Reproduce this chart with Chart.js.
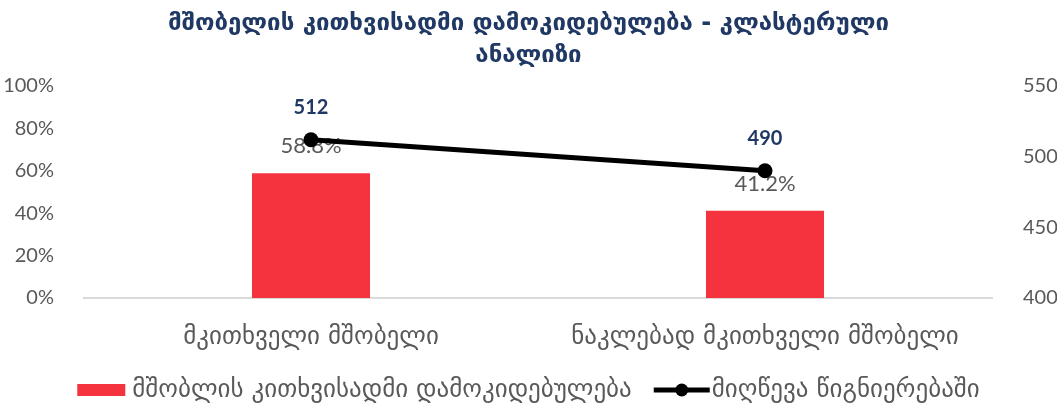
<!DOCTYPE html>
<html>
<head>
<meta charset="utf-8">
<script src="https://cdn.jsdelivr.net/npm/chart.js@4.4.1/dist/chart.umd.min.js"></script>
<style>
  html, body { margin: 0; padding: 0; background: #fff; }
  #wrap { width: 1057px; height: 404px; }
</style>
</head>
<body>
<div id="wrap"><canvas id="parentChart"></canvas></div>
<script>
// categories and series
const categories = ["მკითხველი მშობელი", "ნაკლებად მკითხველი მშობელი"];
const attitudeShare = [58.8, 41.2];   // %
const readingScore = [512, 490];
const seriesNames = ["მშობლის კითხვისადმი დამოკიდებულება", "მიღწევა წიგნიერებაში"];
const chartTitle = ["მშობელის კითხვისადმი დამოკიდებულება - კლასტერული", "ანალიზი"];

const FONT = "Lato, 'DejaVu Sans', sans-serif";
const GEO = "'DejaVu Sans', sans-serif";
const GREY = "#595959";
const NAVY = "#1F3864";
const RED = "#F5333F";

// value labels above the bars and the line points
const valueLabels = {
  id: "valueLabels",
  afterDatasetDraw(chart, args) {
    const ctx = chart.ctx;
    const ds = chart.data.datasets[args.index];
    ctx.save();
    ctx.textAlign = "center";
    ctx.textBaseline = "middle";
    args.meta.data.forEach((el, i) => {
      if (ds.type === "bar") {
        ctx.font = "22px " + FONT;
        ctx.fillStyle = GREY;
        ctx.fillText(ds.data[i].toFixed(1) + "%", el.x, el.y - 27);
      } else {
        ctx.font = "bold 20px " + FONT;
        ctx.fillStyle = NAVY;
        ctx.fillText(String(ds.data[i]), el.x, el.y - 32);
      }
    });
    ctx.restore();
  }
};

// legend at the bottom: red box + line with a dot
const bottomLegend = {
  id: "bottomLegend",
  afterDraw(chart) {
    const ctx = chart.ctx;
    const y = 390;
    ctx.save();
    ctx.font = "25px " + GEO;
    ctx.textBaseline = "middle";
    const w1 = ctx.measureText(seriesNames[0]).width;
    const w2 = ctx.measureText(seriesNames[1]).width;
    const total = 48 + 7 + w1 + 22 + 56 + 2 + w2;
    let x = chart.width / 2 - total / 2;
    ctx.fillStyle = RED;
    ctx.fillRect(x, y - 6, 48, 12);
    x += 55;
    ctx.fillStyle = GREY;
    ctx.fillText(seriesNames[0], x, y);
    x += w1 + 22;
    ctx.strokeStyle = "#000";
    ctx.lineWidth = 5;
    ctx.beginPath();
    ctx.moveTo(x, y);
    ctx.lineTo(x + 56, y);
    ctx.stroke();
    ctx.fillStyle = "#000";
    ctx.beginPath();
    ctx.arc(x + 28, y, 6.5, 0, Math.PI * 2);
    ctx.fill();
    x += 58;
    ctx.fillStyle = GREY;
    ctx.fillText(seriesNames[1], x, y);
    ctx.restore();
  }
};

new Chart("parentChart", {
  data: {
    labels: categories,
    datasets: [
      {
        type: "line",
        label: seriesNames[1],
        data: readingScore,
        yAxisID: "y1",
        order: 0,
        borderColor: "#000",
        backgroundColor: "#000",
        borderWidth: 5,
        pointRadius: 7.5,
        pointBackgroundColor: "#000",
        pointBorderWidth: 0
      },
      {
        type: "bar",
        label: seriesNames[0],
        data: attitudeShare,
        yAxisID: "y",
        order: 1,
        backgroundColor: RED,
        categoryPercentage: 1,
        barPercentage: 0.26
      }
    ]
  },
  options: {
    responsive: true,
    maintainAspectRatio: false,
    animation: false,
    layout: { padding: { bottom: 46, left: 0, right: 0, top: 0 } },
    plugins: {
      legend: { display: false },
      tooltip: { enabled: false },
      title: {
        display: true,
        text: chartTitle,
        color: NAVY,
        font: { family: GEO, size: 24, weight: "bold", lineHeight: 1.333 },
        padding: { top: 8, bottom: 14 }
      }
    },
    scales: {
      x: {
        grid: { display: false },
        border: { color: "#D9D9D9", width: 2 },
        ticks: { color: GREY, font: { family: GEO, size: 25 }, padding: 16 },
        afterFit(scale) { scale.height = 60; }
      },
      y: {
        position: "left",
        min: 0,
        max: 100,
        grid: { display: false },
        border: { display: false },
        ticks: {
          stepSize: 20,
          color: GREY,
          font: { family: FONT, size: 20 },
          padding: 22,
          callback: v => v + "%"
        },
        afterFit(scale) { scale.width = 84; }
      },
      y1: {
        position: "right",
        min: 400,
        max: 550,
        grid: { display: false },
        border: { display: false },
        ticks: {
          stepSize: 50,
          color: GREY,
          font: { family: FONT, size: 20 },
          padding: 23
        },
        afterFit(scale) { scale.width = 65; }
      }
    }
  },
  plugins: [valueLabels, bottomLegend]
});
</script>
</body>
</html>
